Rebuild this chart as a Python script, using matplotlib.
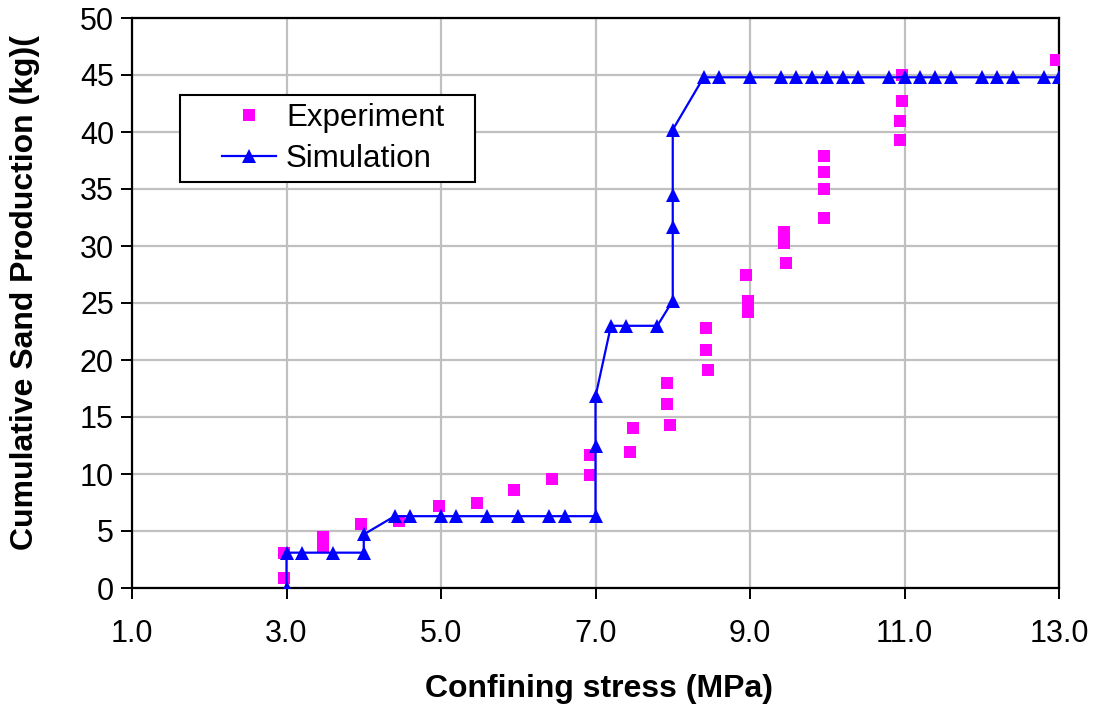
import matplotlib
matplotlib.use("Agg")
import matplotlib.pyplot as plt
from matplotlib.patches import Rectangle

plt.rcParams['font.family'] = ['Liberation Sans', 'DejaVu Sans']

# Experiment data (confining stress MPa, cumulative sand kg)
exp_x = [2.97, 2.97, 3.47, 3.47, 3.97, 4.45, 4.97, 5.46, 5.94, 6.44, 6.93, 6.93,
         7.45, 7.49, 7.93, 7.93, 7.96, 8.43, 8.43, 8.45, 8.95, 8.97, 8.97,
         9.44, 9.44, 9.47, 9.96, 9.96, 9.96, 9.96, 10.97, 10.97, 10.94, 10.94, 12.96]
exp_y = [0.9, 3.1, 4.5, 3.6, 5.6, 5.9, 7.2, 7.5, 8.6, 9.6, 9.9, 11.7,
         11.9, 14.0, 16.1, 18.0, 14.3, 22.8, 20.9, 19.1, 27.5, 25.2, 24.2,
         31.2, 30.3, 28.5, 37.9, 36.5, 35.0, 32.5, 45.0, 42.7, 41.0, 39.3, 46.3]

# Simulation data
sim_x = [3.0, 3.0, 3.2, 3.6, 4.0, 4.0, 4.4, 4.6, 5.0, 5.2, 5.6, 6.0, 6.4, 6.6, 7.0,
         7.0, 7.0, 7.2, 7.4, 7.8, 8.0, 8.0, 8.0, 8.0, 8.4, 8.6, 9.0, 9.4, 9.6, 9.8,
         10.0, 10.2, 10.4, 10.8, 11.0, 11.2, 11.4, 11.6, 12.0, 12.2, 12.4, 12.8, 13.0]
sim_y = [0.0, 3.1, 3.1, 3.1, 3.1, 4.7, 6.3, 6.3, 6.3, 6.3, 6.3, 6.3, 6.3, 6.3, 6.3,
         12.5, 16.8, 23.0, 23.0, 23.0, 25.2, 31.7, 34.5, 40.2, 44.8, 44.8, 44.8, 44.8, 44.8, 44.8,
         44.8, 44.8, 44.8, 44.8, 44.8, 44.8, 44.8, 44.8, 44.8, 44.8, 44.8, 44.8, 44.8]

x_ticks = [1.0, 3.0, 5.0, 7.0, 9.0, 11.0, 13.0]
y_ticks = [0, 5, 10, 15, 20, 25, 30, 35, 40, 45, 50]

W, H = 1098, 709
fig = plt.figure(figsize=(W / 100, H / 100), dpi=100)
ax = fig.add_axes([132 / W, 1 - 588 / H, 927 / W, 570 / H])

ax.plot(exp_x, exp_y, linestyle='none', marker='s', markersize=8,
        color='#FF00FF', markeredgewidth=0, label='Experiment', zorder=3)
ax.plot(sim_x, sim_y, '-', color='#0000FF', linewidth=1.6, marker='^',
        markersize=10, markeredgewidth=0, label='Simulation', zorder=4)

ax.set_xlim(1, 13)
ax.set_ylim(0, 50)
ax.set_xticks(x_ticks)
ax.set_xticklabels([f"{v:.1f}" for v in x_ticks])
ax.set_yticks(y_ticks)
ax.grid(True, color='#C0C0C0', linewidth=1.6)
ax.set_axisbelow(True)
for s in ax.spines.values():
    s.set_color('black')
    s.set_linewidth(1.6)
ax.tick_params(axis='both', direction='out', length=8, width=1.4,
               labelsize=22, colors='black')
ax.tick_params(axis='x', pad=14)
ax.tick_params(axis='y', pad=5)

ax.set_xlabel('Confining stress (MPa)', fontsize=23, fontweight='bold')
ax.set_ylabel('Cumulative Sand Production (kg)(', fontsize=23, fontweight='bold')
ax.xaxis.label.set_va('center')
ax.yaxis.label.set_va('center')
ax.xaxis.set_label_coords((599 - 132) / 927, (588 - 689) / 570)
ax.yaxis.set_label_coords((25 - 132) / 927, (588 - 292) / 570)

# legend frame box (pixel coords of reference)
box = Rectangle((180 / W, 1 - 182 / H), (475 - 180) / W, (182 - 95) / H,
                transform=fig.transFigure, facecolor='white',
                edgecolor='black', linewidth=1.5, zorder=5, clip_on=False)
ax.add_patch(box)
leg = ax.legend(loc='upper left', bbox_to_anchor=(222 / W, 1 - 103 / H),
                bbox_transform=fig.transFigure, fontsize=22.5, frameon=False,
                borderpad=0, handlelength=1.72, labelspacing=0.36, borderaxespad=0,
                handletextpad=0.33)
leg.set_zorder(6)

fig.savefig('out.png', dpi=100)
